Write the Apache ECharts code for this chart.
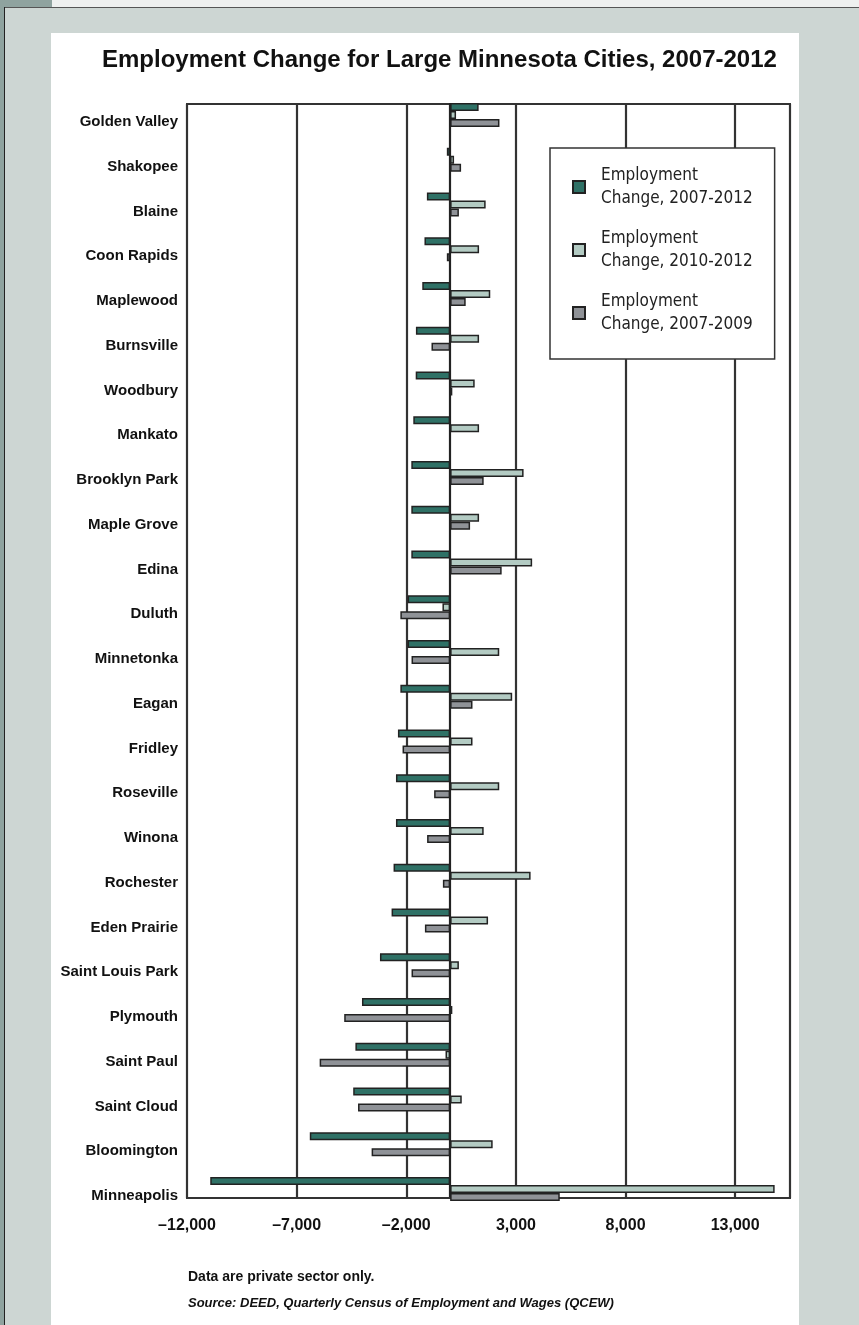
<!DOCTYPE html>
<html>
<head>
<meta charset="utf-8">
<script src="https://cdn.jsdelivr.net/npm/echarts@6/dist/echarts.min.js"></script>
<style>
  html, body { margin: 0; padding: 0; width: 859px; height: 1325px; overflow: hidden; background: #cdd6d3; }
  #topstrip { position: absolute; left: 52px; top: 0; width: 807px; height: 7px; background: #eef0ef; }
  #topleft { position: absolute; left: 0; top: 0; width: 52px; height: 7px; background: #8fa39f; }
  #topline { position: absolute; left: 4px; top: 7px; width: 855px; height: 1px; background: #555; }
  #leftstrip { position: absolute; left: 0; top: 0; width: 4px; height: 1325px; background: #8fa39f; }
  #leftline { position: absolute; left: 4px; top: 7px; width: 1px; height: 1318px; background: #222; }
  #panel { position: absolute; left: 51px; top: 33px; width: 748px; height: 1292px; background: #ffffff; }
  #chart { position: absolute; left: 0; top: 0; width: 859px; height: 1325px; }
</style>
</head>
<body>
<div id="topleft"></div>
<div id="topstrip"></div>
<div id="topline"></div>
<div id="leftstrip"></div>
<div id="leftline"></div>
<div id="panel"></div>
<div id="chart"></div>
<script>
// ---------------- data ----------------
const cities = ['Golden Valley', 'Shakopee', 'Blaine', 'Coon Rapids', 'Maplewood', 'Burnsville', 'Woodbury', 'Mankato',
  'Brooklyn Park', 'Maple Grove', 'Edina', 'Duluth', 'Minnetonka', 'Eagan', 'Fridley', 'Roseville', 'Winona',
  'Rochester', 'Eden Prairie', 'Saint Louis Park', 'Plymouth', 'Saint Paul', 'Saint Cloud', 'Bloomington', 'Minneapolis'];

const change2007to2012 = [1300, -150, -1060, -1170, -1270, -1560, -1570, -1680, -1770, -1770, -1770, -1940, -1940,
  -2270, -2380, -2470, -2470, -2580, -2670, -3200, -4020, -4320, -4420, -6400, -10940];

const change2010to2012 = [270, 180, 1620, 1320, 1830, 1320, 1120, 1320, 3350, 1320, 3740, -350, 2240,
  2830, 1020, 2240, 1530, 3670, 1730, 400, 100, -210, 530, 1940, 14800];

const change2007to2009 = [2250, 500, 400, -150, 710, -850, 100, 0, 1530, 910, 2350, -2270, -1760,
  1020, -2170, -730, -1050, -330, -1150, -1760, -4830, -5950, -4200, -3580, 5000];

const seriesNames = ['Employment\nChange, 2007-2012', 'Employment\nChange, 2010-2012', 'Employment\nChange, 2007-2009'];
const axisMin = -12000, axisMax = 15500, axisStep = 5000;

// ---------------- chart ----------------
const SANS = '"Liberation Sans", Arial, sans-serif';
const COND = '"DejaVu Sans Condensed", "DejaVu Sans", sans-serif';

function fmt(v) {
  const s = Math.abs(v).toString().replace(/\B(?=(\d{3})+(?!\d))/g, ',');
  return (v < 0 ? '\u2013' : '') + s;
}

const chart = echarts.init(document.getElementById('chart'), null, { renderer: 'canvas' });

const colors = ['#2f7166', '#b3cbc3', '#8f9297'];
const barStyle = (c) => ({ color: c, borderColor: '#222222', borderWidth: 1.5 });

chart.setOption({
  backgroundColor: 'transparent',
  animation: false,
  title: {
    text: 'Employment Change for Large Minnesota Cities, 2007-2012',
    left: 97, top: 43,
    textStyle: { fontFamily: SANS, fontWeight: 'bold', fontSize: 24, color: '#111111' }
  },
  legend: {
    orient: 'vertical',
    left: 550, top: 148,
    backgroundColor: '#ffffff',
    borderColor: '#333333', borderWidth: 1.5, borderRadius: 0,
    padding: [16, 22, 23, 22],
    itemWidth: 12, itemHeight: 12, itemGap: 17,
    icon: 'rect',
    data: seriesNames,
    textStyle: { fontFamily: COND, fontSize: 17, lineHeight: 23, color: '#222222', padding: [0, 0, 0, 11] }
  },
  grid: [
    { left: 187, right: 69, top: 92.6, height: 1118.8, containLabel: false },
    { left: 187, right: 69, top: 104, bottom: 127, show: true, borderColor: '#333333', borderWidth: 2, backgroundColor: 'transparent' }
  ],
  xAxis: [
    { type: 'value', gridIndex: 0, min: axisMin, max: axisMax, interval: axisStep,
      axisLine: { show: false }, axisTick: { show: false }, axisLabel: { show: false }, splitLine: { show: false } },
    { type: 'value', gridIndex: 1, min: axisMin, max: axisMax, interval: axisStep,
      axisLine: { show: true, lineStyle: { color: '#333333', width: 2 } },
      axisTick: { show: false },
      splitLine: { show: true, lineStyle: { color: '#333333', width: 2.2 } },
      axisLabel: { formatter: fmt, showMaxLabel: false, margin: 20, fontFamily: SANS, fontWeight: 'bold', fontSize: 16, color: '#111111' } }
  ],
  yAxis: [
    { type: 'category', gridIndex: 0, data: cities, inverse: true,
      axisLine: { show: false, onZero: false }, axisTick: { show: false }, splitLine: { show: false },
      axisLabel: { margin: 9, fontFamily: SANS, fontWeight: 'bold', fontSize: 15, color: '#111111', verticalAlign: 'top', lineHeight: 14 } },
    { type: 'value', gridIndex: 1, min: 0, max: 1,
      axisLine: { show: true, onZero: true, lineStyle: { color: '#222222', width: 2.2 } },
      axisTick: { show: false }, axisLabel: { show: false }, splitLine: { show: false } }
  ],
  series: [
    { name: seriesNames[0], type: 'bar', xAxisIndex: 0, yAxisIndex: 0, data: change2007to2012,
      barWidth: 8, barGap: '0%', itemStyle: barStyle(colors[0]) },
    { name: seriesNames[1], type: 'bar', xAxisIndex: 0, yAxisIndex: 0, data: change2010to2012,
      barWidth: 8, barGap: '0%', itemStyle: barStyle(colors[1]) },
    { name: seriesNames[2], type: 'bar', xAxisIndex: 0, yAxisIndex: 0, data: change2007to2009,
      barWidth: 8, barGap: '0%', itemStyle: barStyle(colors[2]) }
  ],
  graphic: [
    { type: 'text', left: 188, top: 1270,
      style: { text: 'Data are private sector only.', font: 'bold 14px ' + SANS, fill: '#111111' } },
    { type: 'text', left: 188, top: 1297,
      style: { text: 'Source: DEED, Quarterly Census of Employment and Wages (QCEW)', font: 'italic bold 13px ' + SANS, fill: '#111111' } }
  ]
});
</script>
</body>
</html>
